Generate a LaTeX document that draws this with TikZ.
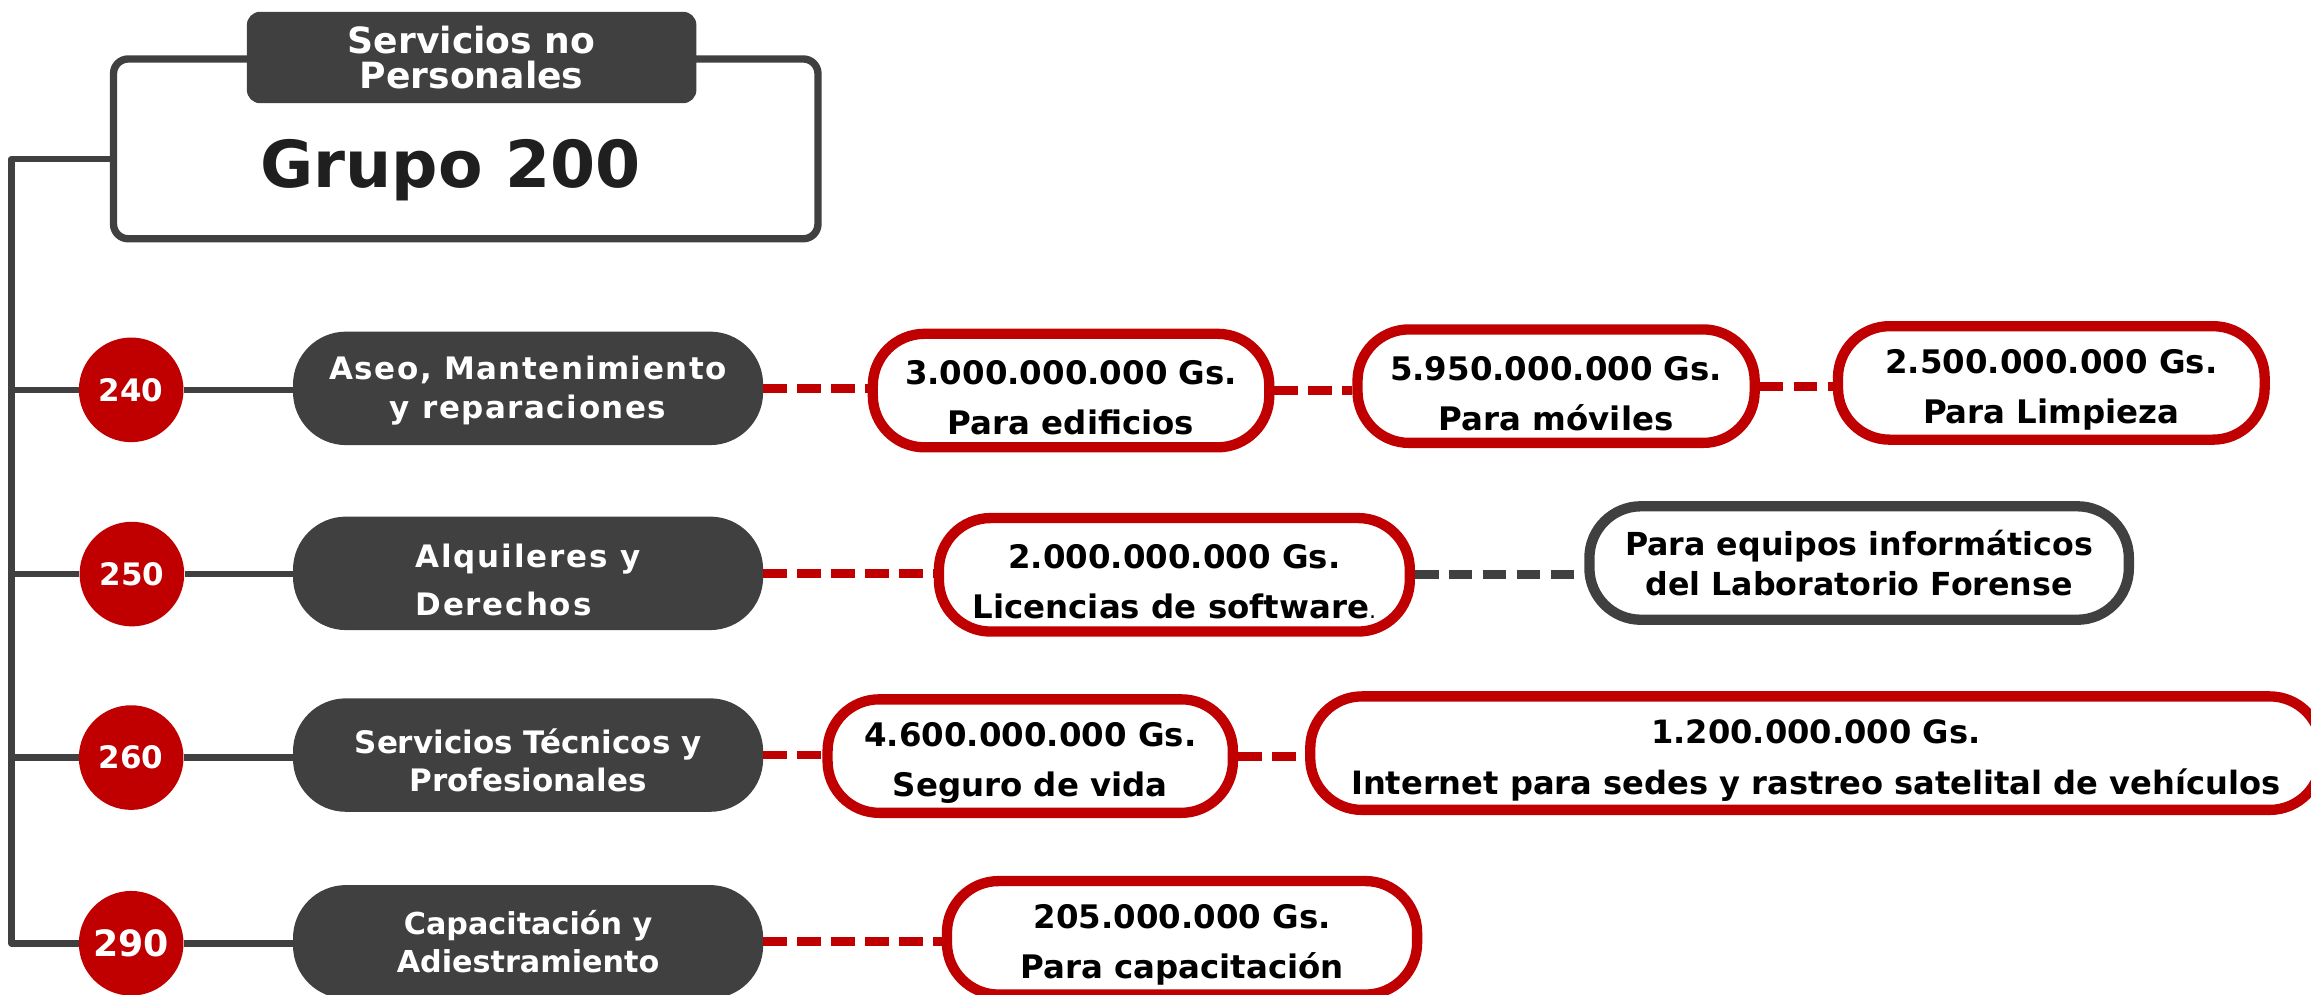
\documentclass[tikz,border=0pt]{standalone}
\usepackage{fontspec}
\setmainfont{DejaVu Sans}
\usepackage{xcolor}
\definecolor{rojo}{HTML}{C00000}
\definecolor{gris}{HTML}{404040}
\definecolor{tinta}{HTML}{1F1F1F}
\newcommand{\alzamonto}{\rule{0pt}{26pt}}

\begin{document}
\begin{tikzpicture}[x=1pt,y=-1pt,
    tronco/.style={draw=gris, line width=4.5pt, line join=round},
    enlace/.style={draw=rojo, line width=6pt, dash pattern=on 16pt off 7pt},
    numero/.style={circle, fill=rojo, text=white, minimum size=71pt, inner sep=0pt,
      font=\bfseries\fontsize{21}{21}\selectfont},
    partida/.style={rectangle, rounded corners=36pt, fill=gris, text=white,
      minimum width=319pt, minimum height=77pt, inner sep=0pt, align=center,
      font=\bfseries\fontsize{21}{26}\selectfont},
    monto/.style={rectangle, draw=rojo, line width=7pt, fill=white, rounded corners=35pt,
      minimum height=77pt, inner sep=0pt, align=center,
      font=\bfseries\fontsize{22}{34}\selectfont}
    %   monto/.style={draw=rojo, ellipse}
   ]
   \useasboundingbox (0,0) rectangle (1568,675);
   % cabecera
   \node[rectangle, draw=gris, line width=5pt, rounded corners=10pt, fill=white,
     minimum width=478pt, minimum height=122pt] (grupo) at (316,101) {};
   \node[rectangle, fill=gris, rounded corners=9pt, minimum width=305pt,
     minimum height=62pt, inner sep=0pt, align=center, text=white,
     font=\bfseries\fontsize{24.5}{24}\selectfont] (titulo) at (320,39) {Servicios no\\Personales};
   \node[anchor=base, text=tinta, font=\bfseries\fontsize{44}{44}\selectfont] (grupotxt)
     at (305.6,127) {Grupo 200};

   % partidas
   \node[numero] (c240) at (89,264.5) {240};
   \node[partida, font=\bfseries\fontsize{21}{26}\selectfont\addfontfeature{LetterSpace=5}]
     (p240) at (358.3,263.5) {\rule{0pt}{19pt}Aseo, Mantenimiento\\y reparaciones};
   \node[numero] (c250) at (89.5,389.5) {250};
   \node[partida, align=left, font=\bfseries\fontsize{21}{32}\selectfont\addfontfeature{LetterSpace=6}]
     (p250) at (358.3,389) {\rule{0pt}{25pt}Alquileres y\\Derechos};
   \node[numero] (c260) at (89,514) {260};
   \node[partida] (p260) at (358.3,512.3) {\rule{0pt}{24pt}Servicios Técnicos y\\Profesionales};
   \node[numero, font=\bfseries\fontsize{24.6}{24.6}\selectfont] (c290) at (89,640) {290};
   \node[partida, font=\bfseries\fontsize{20.5}{25.6}\selectfont] (p290) at (358.3,639)
     {Capacitación y\\Adiestramiento};

   % montos
   \node[monto, minimum width=269pt] (b2401) at (726.7,265) {\alzamonto 3.000.000.000 Gs.\\Para edificios};
   \node[monto, minimum width=269.5pt] (b2402) at (1055.8,262) {\alzamonto 5.950.000.000 Gs.\\Para móviles};
   \node[monto, minimum width=289.5pt] (b2403) at (1391.8,259.8) {\alzamonto 2.500.000.000 Gs.\\Para Limpieza};
   \node[monto, minimum width=319.5pt] (b2501) at (796.8,390)
     {\alzamonto 2.000.000.000 Gs.\\Licencias de software{\mdseries\fontsize{15}{34}\selectfont.}};
   \node[monto, draw=gris, minimum width=366pt, font=\bfseries\fontsize{21.5}{27.5}\selectfont]
     (b2502) at (1261.4,382) {Para equipos informáticos\\del Laboratorio Forense};
   \node[monto, minimum width=275pt] (b2601) at (699,513) {\alzamonto 4.600.000.000 Gs.\\Seguro de vida};
   \node[monto, minimum width=686pt, font=\bfseries\fontsize{21.8}{35}\selectfont] (b2602)
     at (1232,511) {\alzamonto 1.200.000.000 Gs.\\Internet para sedes y rastreo satelital de vehículos};
   \node[monto, minimum width=319pt] (b2901) at (802,636.3) {\alzamonto 205.000.000 Gs.\\Para capacitación};

   % tronco
   \coordinate (t0) at (7.8,108);
   \coordinate (t240) at (7.8,264.5);
   \coordinate (t250) at (7.8,389.5);
   \coordinate (t260) at (7.8,514);
   \coordinate (t290) at (7.8,640);
   \draw[tronco] (t0 -| grupo.west) -- (t0) -- (t290) -- (c290);
   \draw[tronco] (t240) -- (c240);
   \draw[tronco] (t250) -- (c250);
   \draw[tronco] (t260) -- (c260);
   \draw[tronco] (c240.east) -- (c240.east -| p240.west);
   \draw[tronco] (c250.east) -- (c250.east -| p250.west);
   \draw[tronco] (c260.east) -- (c260.east -| p260.west);
   \draw[tronco] (c290.east) -- (c290.east -| p290.west);

   % enlaces
   \draw[enlace] (p240.east) -- (p240.east -| b2401.west);
   \draw[enlace] (b2401.east) -- (b2401.east -| b2402.west);
   \draw[enlace] (b2402.east) -- (b2402.east -| b2403.west);
   \draw[enlace] (p250.east) -- (p250.east -| b2501.west);
   \draw[enlace, draw=gris] (b2501.east) -- (b2501.east -| b2502.west);
   \draw[enlace] (p260.east) -- (p260.east -| b2601.west);
   \draw[enlace] (b2601.east) -- (b2601.east -| b2602.west);
   \draw[enlace] (p290.east) -- (p290.east -| b2901.west);
  \end{tikzpicture}
\end{document}
